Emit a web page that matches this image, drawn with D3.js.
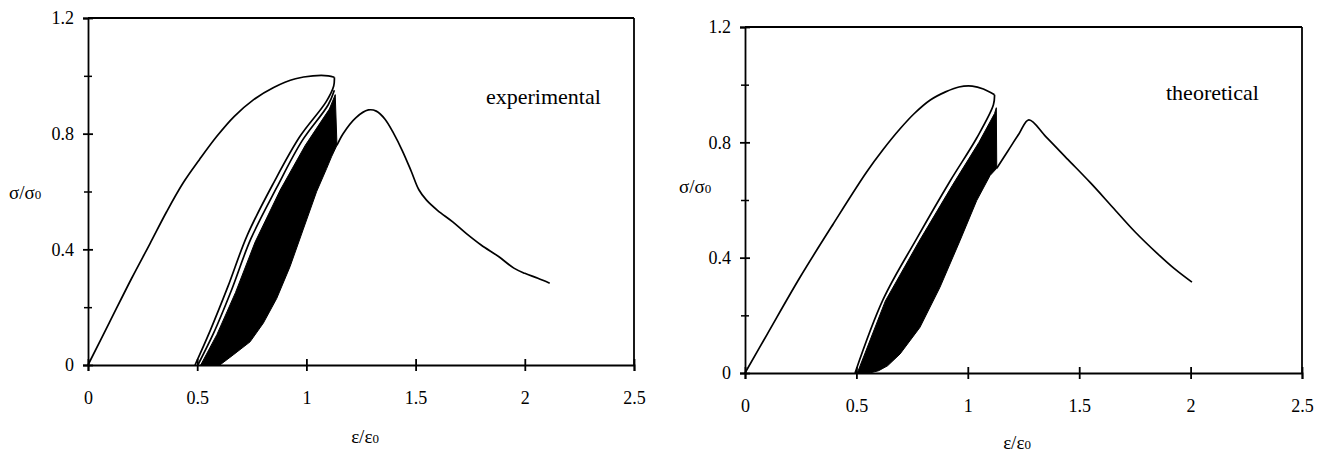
<!DOCTYPE html>
<html><head><meta charset="utf-8">
<script src="https://cdn.jsdelivr.net/npm/d3@7"></script>
<style>
body{margin:0;background:#fff;}
svg{display:block;}
</style></head>
<body><svg id="c" width="1320" height="453"></svg>
<script>
// ---- data ----
const xTicks = [0, 0.5, 1, 1.5, 2, 2.5];
const yTicks = [0, 0.4, 0.8, 1.2];
const yMinorTicks = [0.2, 0.6, 1.0];
const xTickLabels = ["0", "0.5", "1", "1.5", "2", "2.5"];
const yTickLabels = ["0", "0.4", "0.8", "1.2"];

// experimental
const expEnvelope = [[0,0],[0.1,0.15],[0.2,0.30],[0.284,0.42],[0.36,0.53],[0.436,0.63],[0.51,0.71],[0.589,0.79],[0.67,0.86],[0.757,0.917],[0.85,0.96],[0.95,0.99],[1.03,1.0],[1.1,1.0],[1.128,0.995]];
const expUnload1 = [[1.128,0.995],[1.125,0.965],[1.09,0.91],[0.97,0.79],[0.85,0.63],[0.73,0.45],[0.64,0.27],[0.56,0.12],[0.49,0]];
const expUnload2 = [[1.128,0.95],[1.10,0.90],[0.98,0.775],[0.865,0.615],[0.745,0.435],[0.655,0.255],[0.575,0.11],[0.503,0]];
const expBandUpper = [[0.516,0],[0.59,0.105],[0.675,0.25],[0.765,0.425],[0.88,0.605],[0.995,0.76],[1.105,0.885],[1.132,0.935]];
const expBandLower = [[1.14,0.76],[1.115,0.72],[1.093,0.68],[1.047,0.6],[0.986,0.47],[0.925,0.34],[0.864,0.23],[0.803,0.145],[0.742,0.08],[0.665,0.035],[0.604,0]];
const expSoftening = [[1.14,0.76],[1.168,0.8],[1.226,0.855],[1.284,0.882],[1.32,0.878],[1.36,0.85],[1.40,0.80],[1.44,0.74],[1.48,0.67],[1.515,0.606],[1.55,0.57],[1.60,0.535],[1.67,0.495],[1.73,0.456],[1.80,0.415],[1.88,0.375],[1.95,0.335],[2.0,0.317],[2.06,0.30],[2.114,0.283]];

// theoretical
const theoEnvelope = [[0,0],[0.1,0.135],[0.247,0.332],[0.396,0.517],[0.546,0.697],[0.62,0.775],[0.696,0.847],[0.76,0.9],[0.83,0.946],[0.9,0.975],[0.96,0.992],[1.02,0.995],[1.07,0.985],[1.12,0.965]];
const theoUnload1 = [[1.12,0.965],[1.115,0.93],[1.04,0.815],[0.92,0.665],[0.77,0.465],[0.62,0.255],[0.494,0]];
const theoBandUpper = [[0.504,0],[0.63,0.25],[0.78,0.455],[0.93,0.65],[1.05,0.8],[1.12,0.9],[1.128,0.92]];
const theoBandLower = [[1.13,0.71],[1.10,0.685],[1.04,0.598],[0.965,0.459],[0.875,0.297],[0.785,0.158],[0.696,0.066],[0.64,0.025],[0.60,0.008],[0.56,0]];
const theoSoftening = [[1.13,0.71],[1.18,0.77],[1.23,0.83],[1.274,0.878],[1.35,0.82],[1.45,0.74],[1.55,0.66],[1.65,0.575],[1.75,0.49],[1.85,0.415],[1.93,0.36],[2.006,0.315]];

const FONT = "'Liberation Serif','Tinos','Times New Roman','DejaVu Serif','Noto Serif',serif";

const panels = [
  {left:88, right:634, top:18, bottom:365, env:expEnvelope, unload:[expUnload1, expUnload2], bandU:expBandUpper, bandL:expBandLower, soft:expSoftening,
   note:"experimental", noteX:486, noteY:104, ylabX:9, ylabY:199, xlabX:365, xlabY:443},
  {left:745, right:1302, top:27, bottom:373, env:theoEnvelope, unload:[theoUnload1], bandU:theoBandUpper, bandL:theoBandLower, soft:theoSoftening,
   note:"theoretical", noteX:1166, noteY:100, ylabX:679, ylabY:193, xlabX:1017, xlabY:449}
];

const svg = d3.select("#c");

panels.forEach(p => {
  const x = d3.scaleLinear().domain([0, 2.5]).range([p.left, p.right]);
  const y = d3.scaleLinear().domain([0, 1.2]).range([p.bottom, p.top]);
  const g = svg.append("g");
  const line = d3.line().x(d => x(d[0])).y(d => y(d[1])).curve(d3.curveCatmullRom.alpha(0.5));
  const lineLin = d3.line().x(d => x(d[0])).y(d => y(d[1]));

  g.append("line").attr("x1", x(0)).attr("x2", x(2.5)).attr("y1", y(1.2)).attr("y2", y(1.2)).attr("stroke","#000").attr("stroke-width",1.8);
  g.append("line").attr("x1", x(2.5)).attr("x2", x(2.5)).attr("y1", y(1.2)).attr("y2", y(0)).attr("stroke","#000").attr("stroke-width",1.8);

  const xa = g.append("g").attr("transform", `translate(0,${y(0)})`)
    .call(d3.axisBottom(x).tickValues(xTicks).tickFormat((d,i) => xTickLabels[i]).tickSize(6).tickPadding(20));
  xa.select(".domain").attr("stroke-width",1.8);
  xa.selectAll(".tick line").attr("y1",-6).attr("y2",6).attr("stroke-width",1.8);
  xa.selectAll(".tick text").style("font-family",FONT).style("font-size","18px");

  const ya = g.append("g").attr("transform", `translate(${x(0)},0)`)
    .call(d3.axisLeft(y).tickValues(yTicks).tickFormat((d,i) => yTickLabels[i]).tickSize(5).tickPadding(9));
  ya.select(".domain").attr("stroke-width",1.8);
  ya.selectAll(".tick line").attr("x1",5).attr("x2",-5).attr("stroke-width",1.8);
  ya.selectAll(".tick text").style("font-family",FONT).style("font-size","18px");
  const ym = g.append("g").attr("transform", `translate(${x(0)},0)`)
    .call(d3.axisLeft(y).tickValues(yMinorTicks).tickFormat("").tickSize(4));
  ym.select(".domain").remove();
  ym.selectAll(".tick line").attr("x1",4).attr("x2",-4).attr("stroke-width",1.5);

  g.append("path").attr("d", lineLin(p.bandU.concat(p.bandL)) + "Z").attr("fill","#000").attr("stroke","#000").attr("stroke-width",1);

  [p.env, p.soft].concat(p.unload).forEach(c => {
    g.append("path").attr("d", line(c)).attr("fill","none").attr("stroke","#000").attr("stroke-width",1.7);
  });

  g.append("text").attr("x", p.noteX).attr("y", p.noteY).style("font-family",FONT).style("font-size","22px").text(p.note);
  const yl = g.append("text").attr("x", p.ylabX).attr("y", p.ylabY).style("font-family",FONT).style("font-size","19px");
  yl.append("tspan").text("σ/σ");
  yl.append("tspan").style("font-size","13px").text("0");
  const xl = g.append("text").attr("x", p.xlabX).attr("y", p.xlabY).style("font-family",FONT).style("font-size","19px").attr("text-anchor","middle");
  xl.append("tspan").text("ε/ε");
  xl.append("tspan").style("font-size","13px").text("0");
});
</script></body></html>
